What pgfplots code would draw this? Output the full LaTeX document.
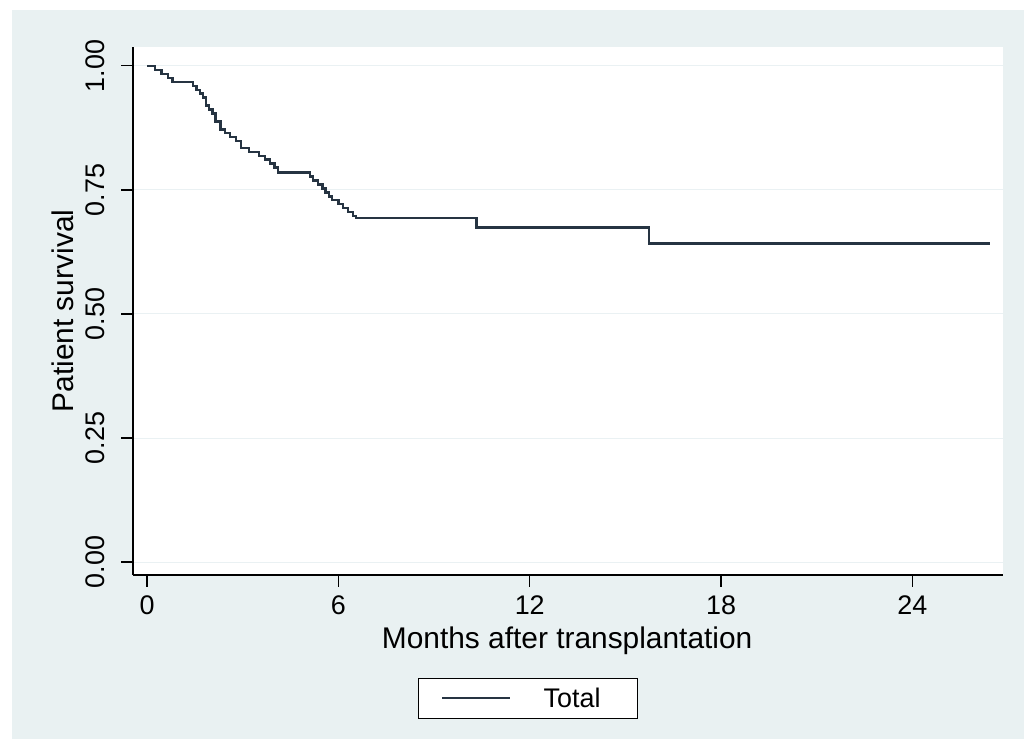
\documentclass[border=0pt]{standalone}
\usepackage{pgfplots}
\pgfplotsset{compat=1.18}
\usepackage{fontspec}
\setmainfont{Liberation Sans}
\definecolor{bgc}{RGB}{233,241,242}
\definecolor{gridc}{RGB}{234,241,243}
\definecolor{linec}{RGB}{38,52,66}
\begin{document}
\begin{tikzpicture}[x=1bp,y=1bp]
\useasboundingbox (0,0) rectangle (1024,739);
\fill[white] (0,0) rectangle (1024,739);
\fill[bgc] (12,0) rectangle (1024,729);
\begin{axis}[
  at={(133bp,164bp)}, anchor=south west,
  scale only axis, width=870bp, height=528bp,
  xmin=-0.44, xmax=26.84, ymin=-0.026, ymax=1.038,
  axis x line*=bottom, axis y line*=left,
  axis line style={black, line width=1.5bp, -},
  axis background/.style={fill=white},
  xtick={0,6,12,18,24}, xticklabels={0,6,12,18,24},
  ytick={0,0.25,0.5,0.75,1}, yticklabels={0.00,0.25,0.50,0.75,1.00},
  tick align=outside, major tick length=12bp,
  tick style={black, line width=1.2bp},
  ymajorgrids, grid style={gridc, line width=1bp},
  ticklabel style={font=\fontsize{27}{27}\selectfont},
  yticklabel style={rotate=90, anchor=south},
  yticklabel shift=13bp,
  xticklabel shift=5bp,
  xlabel={Months after transplantation},
  ylabel={Patient survival},
  every axis x label/.style={at={(axis description cs:0.499,-0.124)}, anchor=center, font=\fontsize{30}{30}\selectfont},
  every axis y label/.style={at={(axis description cs:-0.081,0.5)}, rotate=90, anchor=center, font=\fontsize{30}{30}\selectfont},
  legend style={at={(axis description cs:0.4540,-0.2335)}, anchor=center,
    draw=black, line width=1.5bp, fill=white, font=\fontsize{27}{27}\selectfont,
    inner xsep=4bp, inner ysep=7.5bp},
  legend image code/.code={\path (-19bp,0bp); \draw[#1] (0bp,0bp) -- (68bp,0bp); \path (98bp,0bp);},
]
\addplot[const plot, color=linec, line width=2.3bp] coordinates {
(0,1.000) (0.25,0.992) (0.45,0.984) (0.65,0.976) (0.80,0.968)
(1.45,0.960) (1.55,0.952) (1.65,0.944) (1.75,0.936) (1.85,0.920)
(1.95,0.912) (2.05,0.904) (2.15,0.888) (2.30,0.872) (2.45,0.864)
(2.60,0.856) (2.80,0.848) (2.95,0.835) (3.20,0.827) (3.50,0.819)
(3.70,0.811) (3.85,0.803) (4.00,0.795) (4.10,0.785)
(5.10,0.777) (5.20,0.769) (5.35,0.761) (5.50,0.753) (5.60,0.745)
(5.70,0.737) (5.80,0.729) (6.00,0.721) (6.15,0.713) (6.30,0.705)
(6.45,0.697) (6.55,0.693)
(10.33,0.674) (15.75,0.642) (26.43,0.642)
};
\addlegendentry{\makebox[88bp][l]{Total}}
\end{axis}
\end{tikzpicture}
\end{document}
